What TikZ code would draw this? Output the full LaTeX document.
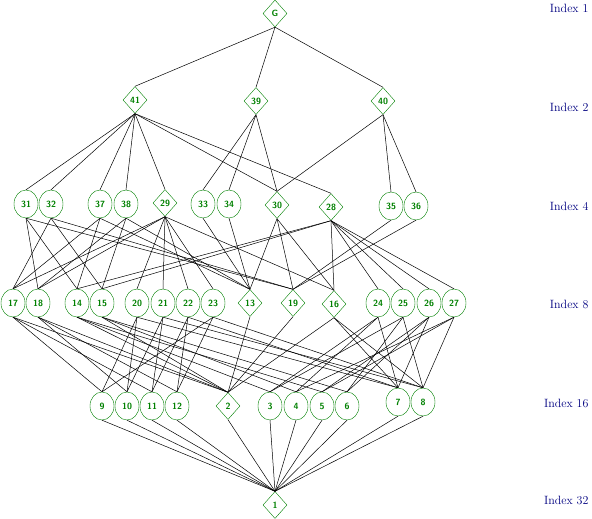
\documentclass[tikz,border=0pt]{standalone}
\usepackage{tikz}
\usetikzlibrary{shapes.geometric}
\definecolor{subgreen}{RGB}{0,128,0}
\definecolor{idxblue}{RGB}{0,0,128}

\begin{document}
\begin{tikzpicture}[x=1pt,y=-1pt,
  lbl/.style={text=subgreen,font=\sffamily\bfseries\fontsize{9}{9}\selectfont},
  sub/.style={lbl,ellipse,draw=subgreen,inner sep=0pt,minimum width=24pt,minimum height=28pt},
  nsub/.style={lbl,diamond,draw=subgreen,inner sep=0pt,minimum width=24pt,minimum height=27pt},
  idx/.style={anchor=east,text=idxblue,font=\fontsize{12}{12}\selectfont},
  edge/.style={line width=0.5pt}]
\useasboundingbox (0,0) rectangle (592,519);
% Index labels
\foreach \i/\y in {1/8,2/107,4/206,8/304,16/403,32/500}
  \node[idx] at (592,\y) {Index \i};
% Normal subgroups
\node[nsub] (sG) at (275,13.5) {G};
\foreach \n/\x/\y in {41/135/100,39/256/101,40/383/101,29/165/203,30/277/205,28/331/207,
    13/250/303,19/293/303,16/334/304,2/228/406,1/275/505}
  \node[nsub] (s\n) at (\x,\y) {\n};
% Other subgroups
\foreach \n/\x in {31/26,32/51,37/100,38/126,33/203,34/229}
  \node[sub] (s\n) at (\x,204) {\n};
\foreach \n/\x in {35/391,36/416}
  \node[sub] (s\n) at (\x,206) {\n};
\foreach \n/\x in {17/13,18/38,14/77,15/102,20/137,21/163,22/188,23/213,24/378,25/403,26/429,27/454}
  \node[sub] (s\n) at (\x,303) {\n};
\foreach \n/\x in {9/102,10/127,11/152,12/177,3/270,4/296,5/322,6/347}
  \node[sub] (s\n) at (\x,406) {\n};
\foreach \n/\x in {7/398,8/423}
  \node[sub] (s\n) at (\x,402) {\n};
% Inclusions
\foreach \a/\b in {G/41,G/39,G/40,
    41/31,41/32,41/37,41/38,41/29,41/30,41/28,39/33,39/34,39/30,40/30,40/35,40/36,
    31/18,31/14,31/19,32/17,32/15,32/19,37/17,37/14,37/13,38/18,38/15,38/13,
    29/17,29/18,29/20,29/21,29/22,29/23,29/16,33/13,34/13,30/13,30/19,30/16,
    28/14,28/15,28/16,28/24,28/25,28/26,28/27,35/19,36/19,
    17/2,17/9,17/11,18/2,18/10,18/12,14/2,14/3,14/5,15/2,15/4,15/6,
    20/9,20/10,20/7,21/10,21/11,21/8,22/11,22/12,22/7,23/9,23/12,23/8,
    13/2,19/2,16/2,16/7,16/8,24/7,24/3,24/4,25/8,25/3,25/6,26/7,26/5,26/6,27/8,27/4,27/5}
  \draw[edge] (s\a.south) -- (s\b.north);
\foreach \b in {2,...,12}
  \draw[edge] (s\b.south) -- (s1.north);
\end{tikzpicture}
\end{document}
